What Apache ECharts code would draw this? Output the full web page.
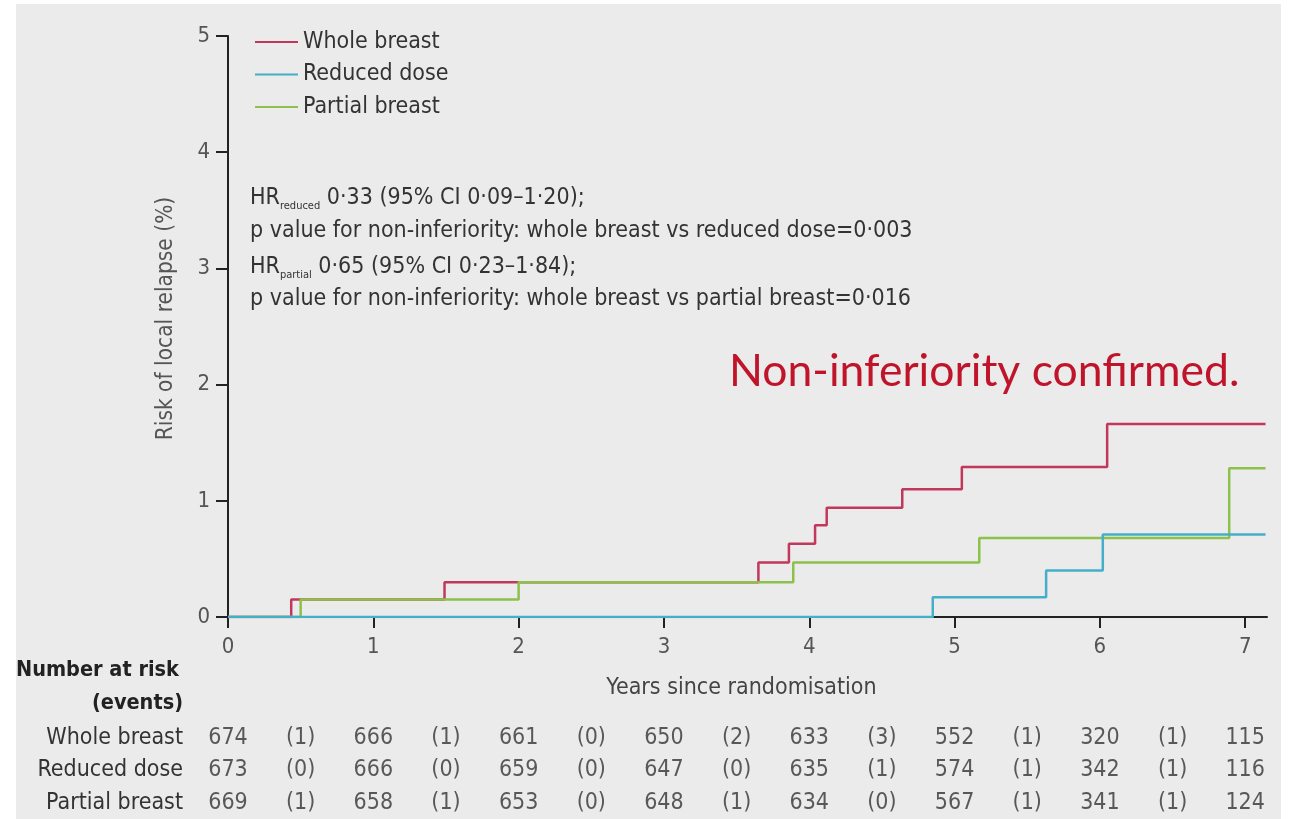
<!DOCTYPE html>
<html>
<head>
<meta charset="utf-8">
<script src="https://cdn.jsdelivr.net/npm/echarts@6/dist/echarts.min.js"></script>
<style>
html,body{margin:0;padding:0;background:#ffffff;}
#bg{position:absolute;left:16px;top:4px;width:1265px;height:815px;background:#ebebeb;}
#c{position:absolute;left:0;top:0;width:1296px;height:819px;}
</style>
</head>
<body>
<div id="bg"></div>
<div id="c"></div>
<script>
// ---- data ----
const seriesNames = ['Whole breast', 'Reduced dose', 'Partial breast'];
const yearTicks = [0, 1, 2, 3, 4, 5, 6, 7];

const wholeX = [0, 0.435, 1.49, 3.65, 3.86, 4.04, 4.12, 4.64, 5.05, 6.05, 7.14];
const wholeY = [0, 0.15, 0.30, 0.47, 0.63, 0.79, 0.94, 1.10, 1.29, 1.66, 1.66];

const reducedX = [0, 4.85, 5.63, 6.02, 7.14];
const reducedY = [0, 0.17, 0.40, 0.71, 0.71];

const partialX = [0, 0.50, 2.00, 3.89, 5.17, 6.89, 7.14];
const partialY = [0, 0.15, 0.30, 0.47, 0.68, 1.28, 1.28];

const atRiskWhole = [674, 666, 661, 650, 633, 552, 320, 115];
const eventsWhole = [1, 1, 0, 2, 3, 1, 1];
const atRiskReduced = [673, 666, 659, 647, 635, 574, 342, 116];
const eventsReduced = [0, 0, 0, 0, 1, 1, 1];
const atRiskPartial = [669, 658, 653, 648, 634, 567, 341, 124];
const eventsPartial = [1, 1, 0, 1, 0, 1, 1];

// ---- build ----
const FONT = '"Liberation Sans Narrow", "DejaVu Sans Condensed", "Open Sans", sans-serif';
const colors = ['#c2385c', '#45afc9', '#8cc14c'];

function pairs(xs, ys) { return xs.map((x, i) => [x, ys[i]]); }

const tableRows = [
  { name: seriesNames[0], n: atRiskWhole, e: eventsWhole },
  { name: seriesNames[1], n: atRiskReduced, e: eventsReduced },
  { name: seriesNames[2], n: atRiskPartial, e: eventsPartial }
];
const tableData = [];
tableRows.forEach((r) => {
  r.n.forEach((v, i) => tableData.push([yearTicks[i], r.name, String(v)]));
  r.e.forEach((v, i) => tableData.push([yearTicks[i] + 0.5, r.name, '(' + v + ')']));
});

const subRich = {
  a: { fontSize: 23, fontFamily: FONT, fill: '#333', lineHeight: 28 },
  s: { fontSize: 11, fontFamily: FONT, fill: '#333', lineHeight: 12, verticalAlign: 'bottom' }
};

const chart = echarts.init(document.getElementById('c'));
const option = {
  animation: false,
  textStyle: { fontFamily: FONT },
  grid: [
    { left: 228, right: 29, top: 36, height: 581 },
    { left: 228, right: 29, top: 722, height: 97 }
  ],
  legend: {
    data: seriesNames,
    orient: 'vertical',
    left: 250,
    top: 25,
    icon: 'rect',
    itemWidth: 43,
    itemHeight: 2,
    itemGap: 8.5,
    textStyle: { fontSize: 23, color: '#333', lineHeight: 24, fontFamily: FONT }
  },
  xAxis: [
    {
      type: 'value', gridIndex: 0, min: 0, max: 7.15, interval: 1,
      axisLine: { show: true, onZero: false, lineStyle: { color: '#222', width: 2 } },
      axisTick: { show: true, length: 11, customValues: yearTicks, lineStyle: { color: '#222', width: 2 } },
      axisLabel: { fontSize: 22, color: '#555', margin: 19, customValues: yearTicks, fontFamily: FONT },
      splitLine: { show: false },
      name: 'Years since randomisation', nameLocation: 'middle', nameGap: 60,
      nameTextStyle: { fontSize: 23, color: '#444', fontFamily: FONT, padding: [0, 12, 0, 0] }
    },
    { type: 'value', gridIndex: 1, min: 0, max: 7.15, show: false }
  ],
  yAxis: [
    {
      type: 'value', gridIndex: 0, min: 0, max: 5, interval: 1,
      axisLine: { show: true, lineStyle: { color: '#222', width: 2 } },
      axisTick: { show: true, length: 12, lineStyle: { color: '#222', width: 2 } },
      axisLabel: { fontSize: 22, color: '#555', margin: 18, fontFamily: FONT },
      splitLine: { show: false },
      name: 'Risk of local relapse (%)', nameLocation: 'middle', nameGap: 50,
      nameTextStyle: { fontSize: 22.5, color: '#555', fontFamily: FONT, padding: [0, 0, 0, 16] }
    },
    {
      type: 'category', gridIndex: 1, inverse: true, data: seriesNames,
      axisLine: { show: false }, axisTick: { show: false },
      axisLabel: { fontSize: 23, color: '#333', margin: 45, fontFamily: FONT }
    }
  ],
  series: [
    {
      name: seriesNames[0], type: 'line', step: 'end', xAxisIndex: 0, yAxisIndex: 0,
      data: pairs(wholeX, wholeY), showSymbol: false, symbol: 'none', z: 3,
      color: colors[0], lineStyle: { width: 2.5, color: colors[0] }
    },
    {
      name: seriesNames[1], type: 'line', step: 'end', xAxisIndex: 0, yAxisIndex: 0,
      data: pairs(reducedX, reducedY), showSymbol: false, symbol: 'none', z: 5,
      color: colors[1], lineStyle: { width: 2.5, color: colors[1] }
    },
    {
      name: seriesNames[2], type: 'line', step: 'end', xAxisIndex: 0, yAxisIndex: 0,
      data: pairs(partialX, partialY), showSymbol: false, symbol: 'none', z: 4,
      color: colors[2], lineStyle: { width: 2.5, color: colors[2] }
    },
    {
      name: 'table', type: 'scatter', xAxisIndex: 1, yAxisIndex: 1,
      data: tableData, symbolSize: 1, silent: true,
      itemStyle: { color: 'rgba(0,0,0,0)' },
      label: {
        show: true, position: 'inside', formatter: (p) => p.value[2],
        fontSize: 23, color: '#333', fontFamily: FONT
      }
    }
  ],
  graphic: [
    {
      type: 'text', x: 250, y: 198,
      style: {
        text: '{a|HR}{s|reduced}{a| 0·33 (95% CI 0·09–1·20);}',
        verticalAlign: 'middle', fill: '#333', rich: subRich
      }
    },
    {
      type: 'text', x: 250, y: 231,
      style: { text: 'p value for non-inferiority: whole breast vs reduced dose=0·003', font: '23px ' + FONT, fill: '#333', verticalAlign: 'middle' }
    },
    {
      type: 'text', x: 250, y: 267,
      style: {
        text: '{a|HR}{s|partial}{a| 0·65 (95% CI 0·23–1·84);}',
        verticalAlign: 'middle', fill: '#333', rich: subRich
      }
    },
    {
      type: 'text', x: 250, y: 299,
      style: { text: 'p value for non-inferiority: whole breast vs partial breast=0·016', font: '23px ' + FONT, fill: '#333', verticalAlign: 'middle' }
    },
    {
      type: 'text', x: 729, y: 372,
      style: { text: 'Non-inferiority confirmed.', font: '44.5px Lato, "Open Sans", sans-serif', fill: '#c0142a', verticalAlign: 'middle' }
    },
    {
      type: 'text', x: 16, y: 670,
      style: { text: 'Number at risk', font: 'bold 21.5px ' + FONT, fill: '#222', verticalAlign: 'middle' }
    },
    {
      type: 'text', x: 183, y: 703,
      style: { text: '(events)', font: 'bold 21.5px ' + FONT, fill: '#222', verticalAlign: 'middle', align: 'right' }
    }
  ]
};
chart.setOption(option);
</script>
</body>
</html>
